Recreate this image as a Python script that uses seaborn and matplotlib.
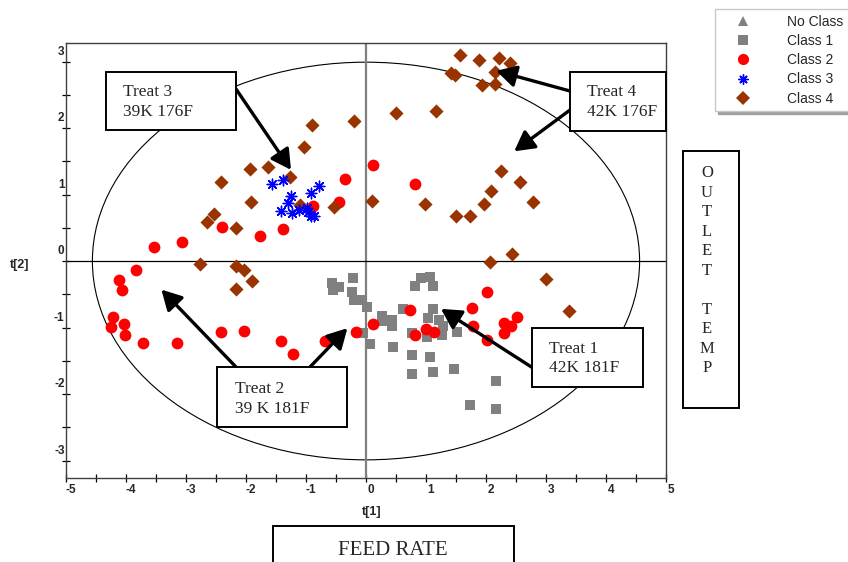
import numpy as np
import pandas as pd
import matplotlib
matplotlib.use("Agg")
import matplotlib.pyplot as plt
import seaborn as sns
from matplotlib.patches import Ellipse, Rectangle
from matplotlib.lines import Line2D
from matplotlib.transforms import ScaledTranslation

# PCA score values t[1], t[2] for each class
class1_t1 = [-0.57, -0.45, -0.55, -0.21, -0.23, -0.20, -0.08, 0.02, -0.05, 0.06,
             0.26, 0.43, 0.43, 0.28, 0.45, 0.62, 0.81, 0.92, 1.06, 1.11,
             1.11, 1.03, 1.21, 1.28, 1.26, 1.01, 1.52, 0.76, 0.76, 1.06,
             0.76, 1.11, 1.47, 2.17, 1.73, 2.17]
class1_t2 = [-0.33, -0.39, -0.44, -0.26, -0.47, -0.58, -0.59, -0.69, -1.09, -1.25,
             -0.83, -0.88, -0.98, -0.90, -1.30, -0.72, -0.38, -0.26, -0.24, -0.38,
             -0.72, -0.86, -0.89, -0.98, -1.11, -1.14, -1.07, -1.08, -1.41, -1.45,
             -1.70, -1.67, -1.62, -1.80, -2.16, -2.23]

class2_t1 = [0.11, -0.35, -0.45, -0.88, -1.38, -1.76, -2.40, -3.06, -3.53, -3.84,
             0.82, -4.12, -4.06, -4.22, -4.25, -4.03, -4.01, -3.71, -3.15, -2.42,
             -2.03, -1.41, -1.21, -0.68, -0.17, 0.12, 0.73, 0.82, 1.00, 1.13,
             1.46, 1.77, 1.79, 2.01, 2.02, 2.30, 2.41, 2.52, 2.30]
class2_t2 = [1.45, 1.23, 0.89, 0.82, 0.48, 0.38, 0.51, 0.28, 0.21, -0.14,
             1.16, -0.29, -0.44, -0.84, -0.99, -0.95, -1.12, -1.23, -1.23, -1.07,
             -1.05, -1.20, -1.40, -1.20, -1.06, -0.95, -0.74, -1.11, -1.02, -1.07,
             -0.84, -0.70, -0.98, -1.19, -0.47, -0.93, -0.97, -0.84, -1.09]

class3_t1 = [-1.57, -1.38, -1.25, -1.30, -1.42, -1.24, -0.92, -0.78, -0.98, -0.97,
             -0.91, -0.87, -1.12]
class3_t2 = [1.16, 1.22, 0.98, 0.87, 0.75, 0.72, 1.02, 1.13, 0.79, 0.73,
             0.68, 0.68, 0.76]

class4_t1 = [1.57, 1.88, 2.22, 2.40, 1.42, 1.48, 2.15, 1.93, 2.15, 0.50,
             1.16, 2.25, 2.56, 2.08, 2.79, 1.96, 0.99, 1.50, 1.73, 2.43,
             2.07, 0.10, -0.20, -0.90, -1.03, -1.93, -1.64, -1.26, -1.92, -1.10,
             -0.53, -2.16, -2.42, -2.53, -2.65, -2.76, -2.16, -2.03, -1.90, -2.17,
             3.00, 3.38]
class4_t2 = [3.10, 3.03, 3.05, 2.98, 2.82, 2.80, 2.84, 2.65, 2.66, 2.23,
             2.25, 1.35, 1.19, 1.05, 0.89, 0.85, 0.86, 0.68, 0.67, 0.11,
             -0.02, 0.91, 2.11, 2.05, 1.71, 1.38, 1.42, 1.26, 0.88, 0.84,
             0.81, 0.49, 1.19, 0.70, 0.58, -0.04, -0.08, -0.13, -0.30, -0.42,
             -0.27, -0.75]

legend_labels = ["No Class", "Class 1", "Class 2", "Class 3", "Class 4"]
x_ticks = [-5, -4, -3, -2, -1, 0, 1, 2, 3, 4, 5]
y_ticks = [-3, -2, -1, 0, 1, 2, 3]

frames = []
for name, t1, t2 in [("Class 1", class1_t1, class1_t2),
                     ("Class 2", class2_t1, class2_t2),
                     ("Class 3", class3_t1, class3_t2),
                     ("Class 4", class4_t1, class4_t2)]:
    frames.append(pd.DataFrame({"t1": t1, "t2": t2, "cls": name}))
df = pd.concat(frames, ignore_index=True)

styles = {
    "No Class": dict(marker="^", color="#808080", s=60),
    "Class 1": dict(marker="s", color="#808080", s=56),
    "Class 2": dict(marker="o", color="#ff0000", s=72),
    "Class 3": dict(marker=(8, 2, 0), color="#0000ff", s=58),
    "Class 4": dict(marker="D", color="#993300", s=52),
}

sns.set_style("white")
plt.rcParams["font.family"] = ["Liberation Sans", "DejaVu Sans"]
plt.rcParams["axes.unicode_minus"] = False

W, H = 848, 562
fig = plt.figure(figsize=(W / 100, H / 100), dpi=100)
ax = fig.add_axes([66 / W, (H - 478) / H, 600 / W, (478 - 42.7) / H])

# Hotelling ellipse and zero lines
ax.add_patch(Ellipse((0, 0), 9.12, 5.98, fill=False, lw=0.8,
                     edgecolor="black", zorder=1))
ax.axvline(0, color="#808080", lw=1.6, zorder=1)
ax.axhline(0, color="black", lw=0.9, zorder=1)

for cls in ["Class 1", "Class 2", "Class 4", "Class 3"]:
    st = styles[cls]
    sub = df[df["cls"] == cls]
    extra = dict(linewidth=1.0) if cls == "Class 3" else dict(linewidth=0)
    sns.scatterplot(data=sub, x="t1", y="t2", marker=st["marker"],
                    color=st["color"], s=st["s"], ax=ax, legend=False,
                    zorder=3, **extra)

ax.set_xlim(-5, 5)
ax.set_ylim(-3.263, 3.283)
ax.set_xlabel("")
ax.set_ylabel("")
ax.set_xticks(x_ticks)
ax.set_xticks(np.arange(-4.5, 5, 1.0), minor=True)
ax.set_yticks(y_ticks)
ax.set_yticks(np.arange(-2.5, 3, 1.0), minor=True)
ax.tick_params(axis="both", which="both", direction="inout", length=6,
               width=0.9, color="black", bottom=True, left=True,
               top=False, right=False)
ax.tick_params(axis="x", which="major", pad=1.0, labelsize=8.5)
ax.tick_params(axis="y", which="major", pad=-2.0, labelsize=8.5)
for sp in ax.spines.values():
    sp.set_color("#404040")
    sp.set_linewidth(1.0)

for lbl in ax.get_xticklabels():
    lbl.set_fontweight("bold")
    lbl.set_transform(lbl.get_transform() + ScaledTranslation(5 / 100, 0, fig.dpi_scale_trans))
for lbl in ax.get_yticklabels():
    lbl.set_fontweight("bold")
    lbl.set_transform(lbl.get_transform() + ScaledTranslation(0, 11.5 / 100, fig.dpi_scale_trans))

fig.text(372 / W, 1 - 512 / H, "t[1]", ha="center", va="center",
         fontweight="bold", fontsize=9)
fig.text(20 / W, 1 - 265 / H, "t[2]", ha="center", va="center",
         fontweight="bold", fontsize=9)

# Legend
handles = [Line2D([], [], linestyle="None", marker=styles[k]["marker"],
                  color=styles[k]["color"], markersize=np.sqrt(styles[k]["s"]) * 0.95,
                  markeredgewidth=1.0 if k == "Class 3" else 0)
           for k in legend_labels]
fig.legend(handles, legend_labels, loc="upper left",
           bbox_to_anchor=(715 / W, 1 - 9 / H), fontsize=10, frameon=True,
           fancybox=False, edgecolor="#c8c8c8", framealpha=1,
           shadow={"color": "#a0a0a0", "alpha": 1}, borderaxespad=0,
           borderpad=0.4, handlelength=3.2, handletextpad=1.6,
           labelspacing=0.38)

serif = ["Liberation Serif", "DejaVu Serif"]


def box(x0, y0, x1, y1):
    fig.add_artist(Rectangle((x0 / W, 1 - y1 / H), (x1 - x0) / W, (y1 - y0) / H,
                             transform=fig.transFigure, facecolor="white",
                             edgecolor="black", lw=1.4, zorder=5))


def label(x, y, s, size=12.5, ha="left"):
    fig.text(x / W, 1 - y / H, s, ha=ha, va="baseline", fontsize=size,
             family=serif, zorder=6)


def arrow(tip, tail):
    ax.annotate("", xy=tip, xycoords="data",
                xytext=(tail[0], H - tail[1]), textcoords="figure pixels",
                arrowprops=dict(arrowstyle="-|>,head_length=0.6,head_width=0.33",
                                mutation_scale=20, lw=2.4, color="black",
                                shrinkA=0, shrinkB=0), zorder=4)


# Treatment annotations
arrow((-1.25, 1.37), (236, 89))
box(106, 72, 236, 130)
label(123, 96, "Treat 3")
label(123, 116, "39K 176F")

arrow((2.17, 2.86), (570, 91))
arrow((2.47, 1.65), (570, 110))
box(570, 72, 666, 131)
label(587, 96.5, "Treat 4")
label(587, 116, "42K 176F")

arrow((1.25, -0.72), (533, 368))
box(532, 328, 643, 387)
label(549, 353, "Treat 1")
label(549, 372.5, "42K 181F")

arrow((-3.41, -0.43), (236, 367))
arrow((-0.31, -1.01), (310, 367))
box(217, 367, 347, 427)
label(235, 393, "Treat 2")
label(235, 413, "39 K 181F")

box(683, 151, 739, 408)
letters = ["O", "U", "T", "L", "E", "T", "", "T", "E", "M", "P"]
for i, ch in enumerate(letters):
    if ch:
        label(707, 177.3 + 19.5 * i, ch, size=12, ha="center")

box(273, 526, 514, 575)
label(393, 555, "FEED RATE", size=15, ha="center")

fig.savefig("out.png", dpi=100)
